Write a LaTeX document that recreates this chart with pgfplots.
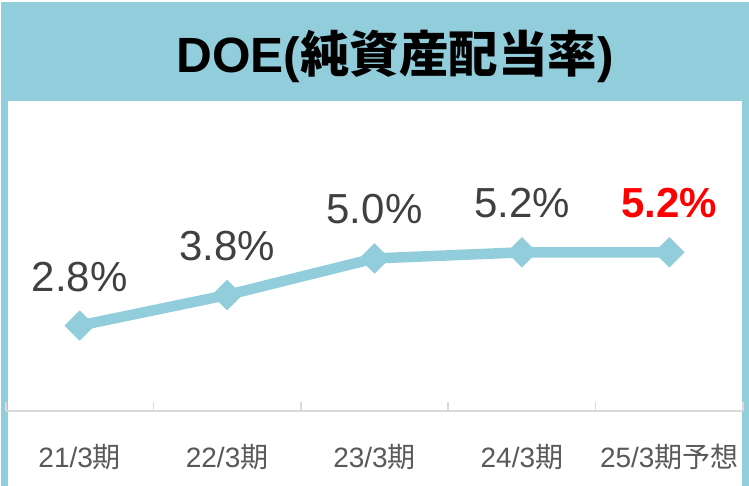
\documentclass[border=0pt]{standalone}
\usepackage{pgfplots}
\pgfplotsset{compat=1.18}
\usepackage{fontspec}
\setmainfont{Liberation Sans}
\newfontfamily\cjk{Noto Sans CJK JP}
\definecolor{frameblue}{HTML}{92CDDC}
\definecolor{labgray}{HTML}{404040}
\definecolor{tickgray}{HTML}{595959}
\definecolor{axgray}{HTML}{D9D9D9}
\begin{document}
\begin{tikzpicture}[x=1pt,y=1pt]
\path[use as bounding box] (0,0) rectangle (749,486);
\fill[frameblue] (1,0) rectangle (749,484);
\fill[white] (8,0) rectangle (742,385);
\node[font=\fontsize{49.5}{49.5}\selectfont\bfseries, text=black] at (395,429.5) {DOE({\cjk 純資産配当率})};
\begin{axis}[at={(6pt,75pt)}, anchor=south west, scale only axis,
  width=737pt, height=310pt,
  xmin=-0.5, xmax=4.5, ymin=0, ymax=10.16,
  axis x line=bottom, axis y line=none,
  x axis line style={axgray, line width=1.5pt, -},
  xtick={0,1,2,3,4},
  xticklabels={21/3{\cjk 期},22/3{\cjk 期},23/3{\cjk 期},24/3{\cjk 期},25/3{\cjk 期予想}},
  major tick length=0pt,
  minor xtick={-0.5,0.5,1.5,2.5,3.5,4.5},
  minor tick length=9pt, tick align=inside,
  minor tick style={axgray, line width=1.5pt},
  xticklabel style={font=\fontsize{28}{28}\selectfont, text=tickgray, anchor=center, yshift=-46pt},
  clip=false,
]
\addplot[frameblue, line width=10.5pt, line join=round, mark=square*, mark size=10.5pt,
  mark options={rotate=45, line width=0.5pt, fill=frameblue, draw=frameblue}]
  coordinates {(0,2.8)(1,3.8)(2,5.0)(3,5.2)(4,5.2)};
\addplot[draw=none, nodes near coords, point meta=explicit symbolic,
  nodes near coords style={anchor=center, yshift=49pt, font=\fontsize{42}{42}\selectfont, text=labgray}]
  coordinates {(0,2.8)[2.8\%] (1,3.8)[3.8\%] (2,5.0)[5.0\%] (3,5.2)[5.2\%]};
\addplot[draw=none, nodes near coords, point meta=explicit symbolic,
  nodes near coords style={anchor=center, yshift=49pt, font=\fontsize{42}{42}\selectfont\bfseries, text=red}]
  coordinates {(4,5.2)[5.2\%]};
\end{axis}
\end{tikzpicture}
\end{document}
